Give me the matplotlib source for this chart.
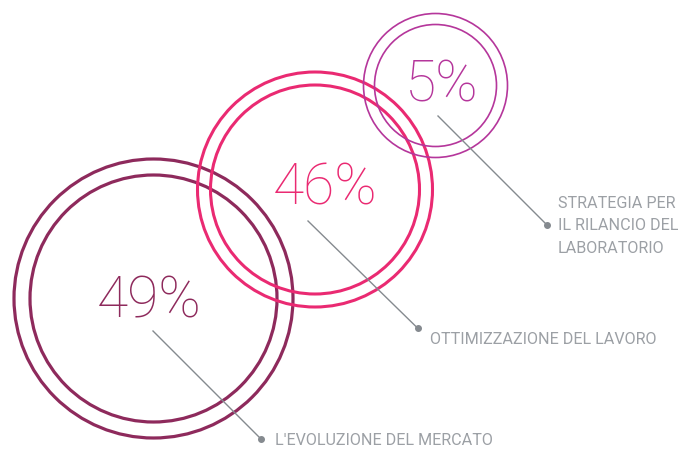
import matplotlib
matplotlib.use("Agg")
import matplotlib.pyplot as plt
from matplotlib.patches import Circle

# data
percentages = [49, 46, 5]
labels = ["L'EVOLUZIONE DEL MERCATO",
          "OTTIMIZZAZIONE DEL LAVORO",
          "STRATEGIA PER\nIL RILANCIO DEL\nLABORATORIO"]
colors = ["#8e2a5c", "#ea2a72", "#b5369b"]

# layout (pixels, y down)
centers = [(153.5, 299.5), (315, 190.5), (435.5, 86.5)]
outer_r = [139.5, 117.5, 72]
inner_r = [123.5, 104.5, 61]
ring_lw = [2.3, 2.2, 1.2]
text_pos = [(149, 302), (325, 189), (442, 86.5)]
line_start = [(153, 332), (308, 222), (438, 117)]
dot_pos = [(261, 440), (417.5, 329), (546.5, 225.5)]
label_pos = [(275, 441), (430, 340), (558, 226)]

fig = plt.figure(figsize=(6.83, 4.52), dpi=100)
ax = fig.add_axes([0, 0, 1, 1])
ax.set_xlim(0, 683)
ax.set_ylim(452, 0)
ax.axis("off")

for i in range(3):
    for r in (outer_r[i], inner_r[i]):
        ax.add_patch(Circle(centers[i], r, fill=False, ec=colors[i], lw=ring_lw[i]))
    ax.text(text_pos[i][0], text_pos[i][1], f"{percentages[i]}%", color=colors[i],
            fontsize=41, fontweight="light", family=["Roboto", "DejaVu Sans"],
            ha="center", va="center")
    ax.plot([line_start[i][0], dot_pos[i][0]], [line_start[i][1], dot_pos[i][1]],
            color="#858a8f", lw=1)
    ax.plot(*dot_pos[i], "o", color="#858a8f", ms=4)
    ax.text(label_pos[i][0], label_pos[i][1], labels[i], color="#9ca0a5",
            fontsize=11.6, family=["Roboto", "DejaVu Sans"],
            ha="left", va="center", linespacing=1.6)

fig.savefig("out.png", dpi=100)
